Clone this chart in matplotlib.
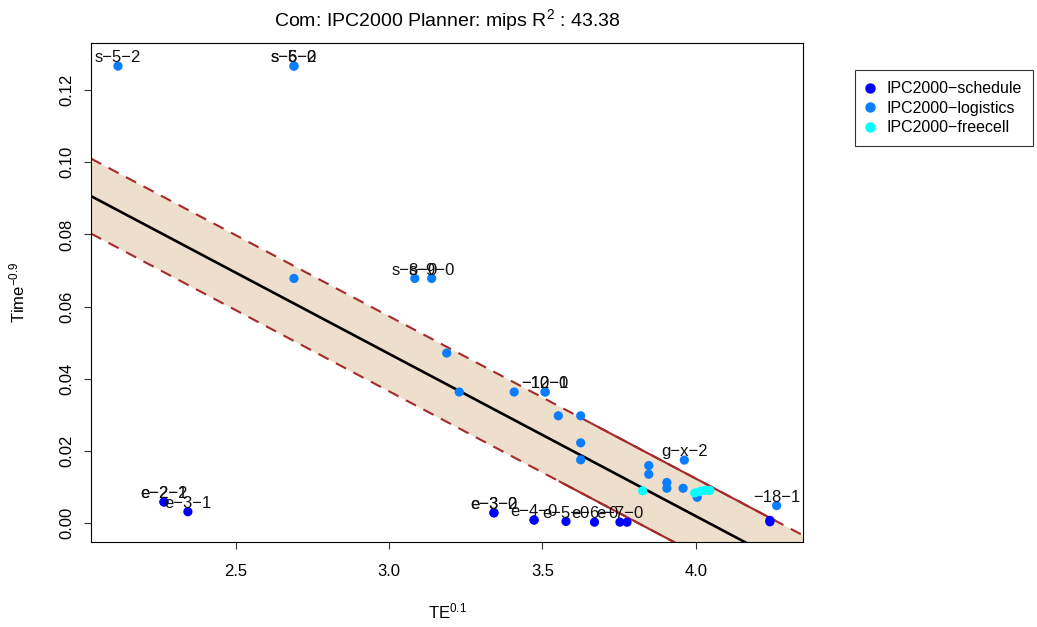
import matplotlib
matplotlib.use("Agg")
import matplotlib.pyplot as plt
import numpy as np
from matplotlib.lines import Line2D

plt.rcParams['font.family'] = ['Liberation Sans', 'DejaVu Sans']
plt.rcParams['mathtext.fontset'] = 'custom'
plt.rcParams['mathtext.rm'] = 'Liberation Sans'
plt.rcParams['mathtext.it'] = 'Liberation Sans:italic'

M = "\u2212"

# ---- data: TE^0.1 vs Time^-0.9 per domain ----
schedule_x = [2.266, 2.266, 2.344, 3.342, 3.342, 3.473, 3.473, 3.577, 3.670,
              3.753, 3.776, 4.242, 4.242]
schedule_y = [0.0058, 0.0058, 0.0031, 0.0028, 0.0028, 0.0008, 0.0008, 0.0004,
              0.0002, 0.0002, 0.0002, 0.0007, 0.0003]
schedule_lab = ["e−2−1", "e−2−2", "e−3−1", "e−3−0", "e−3−2", "e−4−0", "",
                "e−5−0", "e−6−0", "e−7−0", "", "", ""]

logistics_x = [2.116, 2.690, 2.690, 2.690, 3.084, 3.139, 3.188, 3.229, 3.408,
               3.509, 3.509, 3.552, 3.625, 3.625, 3.625, 3.847, 3.847, 3.906,
               3.906, 3.959, 3.963, 4.005, 4.264]
logistics_y = [0.1267, 0.1267, 0.1267, 0.0678, 0.0678, 0.0678, 0.0471, 0.0363,
               0.0363, 0.0363, 0.0363, 0.0297, 0.0297, 0.0222, 0.0175, 0.0159,
               0.0135, 0.0112, 0.0096, 0.0096, 0.0174, 0.0071, 0.0048]
logistics_lab = ["s−5−2", "s−5−0", "s−6−2", "", "s−8−0", "s−9−0", "", "", "",
                 "−10−0", "−12−1", "", "", "", "", "", "", "", "", "",
                 "g−x−2", "", "−18−1"]

freecell_x = [3.827, 3.997, 4.014, 4.030, 4.046]
freecell_y = [0.0089, 0.0083, 0.0087, 0.0090, 0.0090]
freecell_lab = ["", "", "", "", ""]

series_names = ["IPC2000−schedule", "IPC2000−logistics", "IPC2000−freecell"]
series_colors = ["#0000FF", "#0A7EFF", "#00FFFF"]

# linear fit and prediction band
fit_intercept = 0.1819
fit_slope = -0.0450
band_half = 0.0104
r_squared = 43.38

xlim = (2.028, 4.350)
ylim = (-0.0053, 0.1331)

fig = plt.figure(figsize=(10.37, 6.27), dpi=100)
ax = fig.add_axes([91 / 1037, 1 - 542 / 627, 712 / 1037, 499 / 627])
ax.set_xlim(*xlim)
ax.set_ylim(*ylim)

gx = np.linspace(xlim[0], xlim[1], 200)
fit = fit_intercept + fit_slope * gx
ax.fill_between(gx, fit - band_half, fit + band_half, color="#EEDFCC",
                lw=0, zorder=1)

brown = "#A52A2A"
dash = (0, (5.5, 4.0))
ax.plot(gx, fit + band_half, color=brown, lw=1.5, ls=dash, zorder=2)
ax.plot(gx, fit - band_half, color=brown, lw=1.5, ls=dash, zorder=2)
# dense stretches where the band edges are drawn through solid
up = gx[(gx >= 3.655) & (gx <= 4.262)]
lo = gx[gx >= 3.547]
ax.plot(up, fit_intercept + fit_slope * up + band_half, color=brown, lw=1.5,
        zorder=2)
ax.plot(lo, fit_intercept + fit_slope * lo - band_half, color=brown, lw=1.5,
        zorder=2)
ax.plot(gx, fit, color="black", lw=1.9, zorder=3)

groups = [(schedule_x, schedule_y, schedule_lab),
          (logistics_x, logistics_y, logistics_lab),
          (freecell_x, freecell_y, freecell_lab)]
for (xs, ys, labs), col in zip(groups, series_colors):
    ax.scatter(xs, ys, s=44, color=col, edgecolors="none", zorder=4)
for xs, ys, labs in groups:
    for x, y, t in zip(xs, ys, labs):
        if t:
            ax.annotate(t.replace("−", M), (x, y), xytext=(0, 6),
                        textcoords="offset points", ha="center",
                        va="center", fontsize=12, color="#111111", zorder=5)

ax.set_xticks([2.5, 3.0, 3.5, 4.0])
ax.set_xticklabels(["2.5", "3.0", "3.5", "4.0"])
ax.set_yticks([0.00, 0.02, 0.04, 0.06, 0.08, 0.10, 0.12])
ax.set_yticklabels(["0.00", "0.02", "0.04", "0.06", "0.08", "0.10", "0.12"],
                   rotation=90, va="center")
ax.tick_params(axis="both", direction="out", length=5, width=0.8,
               labelsize=12, color="#333333")
ax.tick_params(axis="x", pad=11)
ax.tick_params(axis="y", pad=7)
for sp in ax.spines.values():
    sp.set_linewidth(0.8)

ax.set_xlabel(r"TE$^{\mathrm{0.1}}$", fontsize=12)
ax.xaxis.set_label_coords(0.5, -0.120)
ax.set_ylabel(r"Time$^{\mathrm{-0.9}}$", fontsize=12)
ax.yaxis.set_label_coords(-0.089, 0.5)
ax.text(0.5, 1.046, r"Com: IPC2000 Planner: mips R$^{\mathrm{2}}$ : " +
        f"{r_squared:.2f}", transform=ax.transAxes, ha="center",
        va="center", fontsize=14)

handles = [Line2D([], [], marker="o", ls="none", markersize=7.5,
                  markerfacecolor=c, markeredgecolor="none")
           for c in series_colors]
leg = fig.legend(handles, series_names, loc="upper left",
                 bbox_to_anchor=(855 / 1037, 1 - 70 / 627), fontsize=11.5,
                 frameon=True, fancybox=False, borderpad=0.7,
                 handlelength=0.5, handletextpad=0.75, labelspacing=0.28,
                 borderaxespad=0)
leg.get_frame().set_edgecolor("black")
leg.get_frame().set_linewidth(0.8)

fig.savefig("out.png", dpi=100)
